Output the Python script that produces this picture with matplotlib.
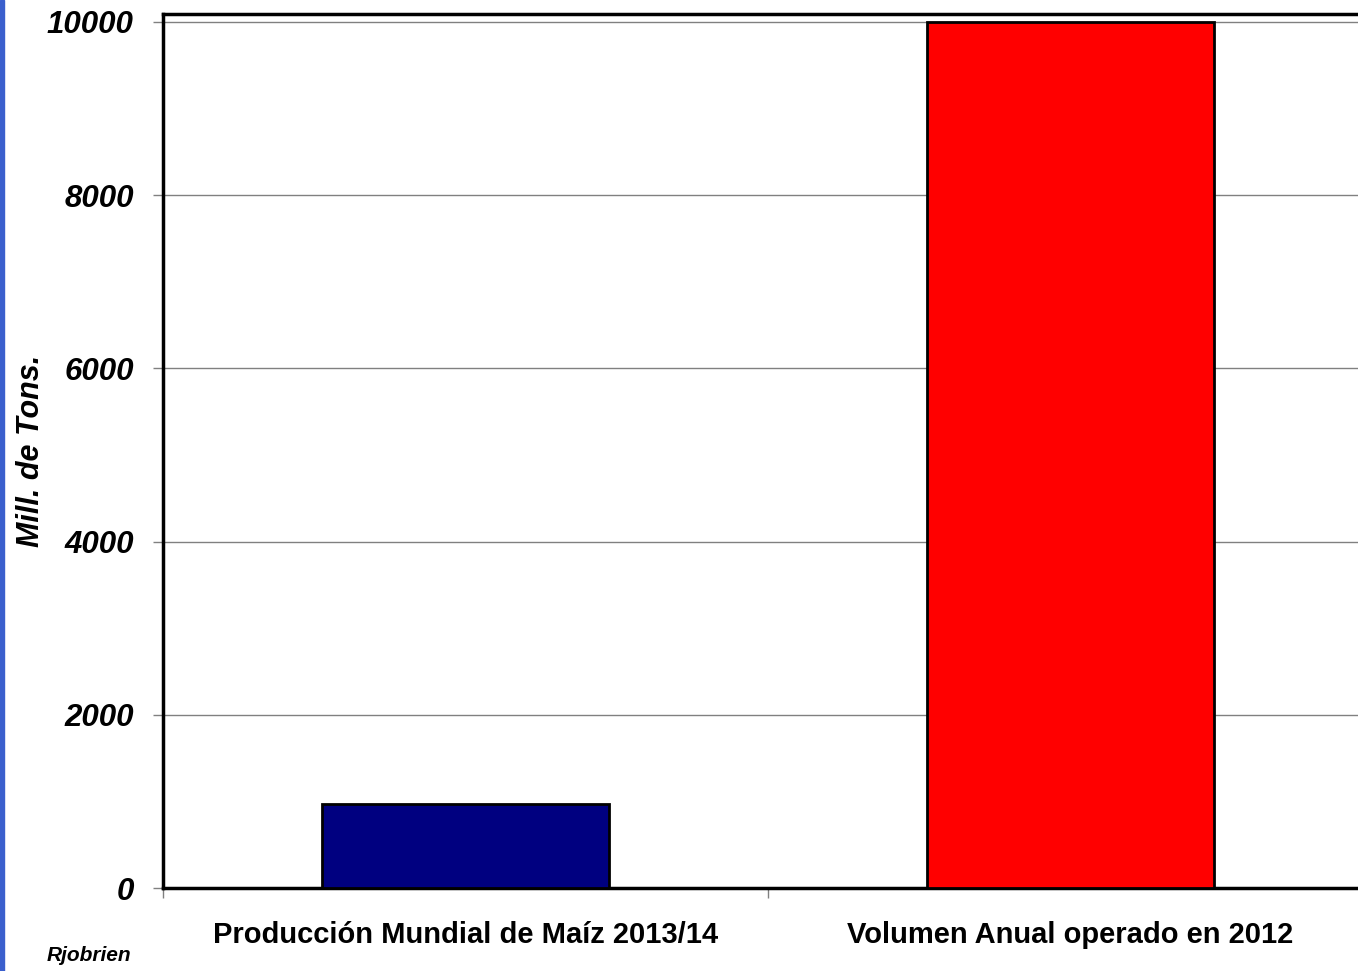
import matplotlib.pyplot as plt
from matplotlib.patches import Rectangle

# Chart data
categories = ['Producción Mundial de Maíz 2013/14', 'Volumen Anual operado en 2012']
values = [975, 10000]
bar_colors = ['#000080', '#FF0000']
y_ticks = [0, 2000, 4000, 6000, 8000, 10000]

plt.rcParams['font.family'] = ['Liberation Sans', 'DejaVu Sans']

fig = plt.figure(figsize=(13.58, 9.71), dpi=100)
W, H = 1358, 971

# axes extends past the right edge, as in the reference screenshot
ax = fig.add_axes([163 / W, (H - 888) / H, 1210 / W, 874 / H])

index = range(len(categories))
ax.bar(index, values, width=0.475, color=bar_colors, edgecolor='black',
       linewidth=2, zorder=3)

ax.set_xlim(-0.5, 1.5)
ax.set_ylim(0, 10092)

# y axis
ax.set_yticks(y_ticks)
ax.set_yticklabels([str(v) for v in y_ticks], fontsize=22.5, fontweight='bold',
                   fontstyle='italic')
ax.tick_params(axis='y', length=7, width=1, color='#808080', pad=14)
ax.yaxis.grid(True, color='#808080', linewidth=1, zorder=0)
ax.set_ylabel('Mill. de Tons.', fontsize=22, fontweight='bold',
              fontstyle='italic')
ax.yaxis.set_label_coords(-0.097, 0.5)

# x axis: labels at category centres, tick marks at boundaries
ax.set_xticks([-0.5, 0.5, 1.5])
ax.set_xticklabels(['', '', ''])
ax.tick_params(axis='x', which='major', length=7, width=1, color='#808080',
               direction='out')
ax.set_xticks(list(index), minor=True)
ax.set_xticklabels(categories, minor=True, fontsize=21, fontweight='bold')
ax.tick_params(axis='x', which='minor', length=0, pad=24)

for side in ['left', 'bottom', 'top']:
    ax.spines[side].set_linewidth(2.5)
    ax.spines[side].set_color('black')

# source note
fig.text(47 / W, 1 - 955 / H, 'Rjobrien', fontsize=15, fontweight='bold',
         fontstyle='italic', va='center', ha='left')

# blue window edge on the left
fig.patches.append(Rectangle((0, 0), 4 / W, 1, transform=fig.transFigure,
                             color='#3a5fcd', zorder=10))

fig.savefig('out.png', dpi=100)
